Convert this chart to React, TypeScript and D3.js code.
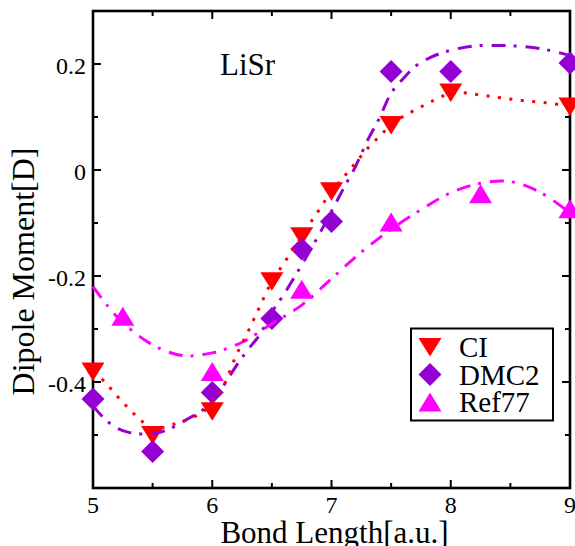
import React, { useRef, useEffect } from "react";
import * as d3 from "d3";

// computed points
const ciX = [5, 5.5, 6, 6.5, 6.75, 7, 7.5, 8, 9];
const ciY = [-0.38, -0.5, -0.455, -0.21, -0.125, -0.04, 0.085, 0.146, 0.12];
const dmcX = [5, 5.5, 6, 6.5, 6.75, 7, 7.5, 8, 9];
const dmcY = [-0.432, -0.531, -0.42, -0.28, -0.149, -0.097, 0.186, 0.186, 0.202];
const refX = [5.25, 6, 6.75, 7.5, 8.25, 9];
const refY = [-0.276, -0.38, -0.225, -0.098, -0.045, -0.073];

// fitted curves
const ciFitX = [5, 5.1, 5.2, 5.3, 5.4, 5.5, 5.6, 5.7, 5.8, 5.9, 6, 6.1, 6.2, 6.3, 6.4, 6.5, 6.6, 6.7, 6.8, 6.9, 7, 7.1, 7.2, 7.3, 7.4, 7.5, 7.6, 7.7, 7.8, 7.9, 8, 8.1, 8.2, 8.4, 8.6, 8.8, 9];
const ciFitY = [-0.38, -0.4, -0.426, -0.45, -0.472, -0.488, -0.485, -0.478, -0.47, -0.46, -0.44, -0.405, -0.35, -0.305, -0.257, -0.21, -0.176, -0.143, -0.107, -0.074, -0.04, -0.014, 0.013, 0.04, 0.063, 0.085, 0.101, 0.113, 0.125, 0.136, 0.145, 0.146, 0.143, 0.137, 0.131, 0.127, 0.12];
const dmcFitX = [5, 5.1, 5.2, 5.3, 5.4, 5.5, 5.6, 5.7, 5.8, 5.9, 6, 6.1, 6.2, 6.3, 6.4, 6.5, 6.6, 6.7, 6.8, 6.9, 7, 7.1, 7.2, 7.3, 7.4, 7.5, 7.6, 7.7, 7.8, 7.9, 8, 8.2, 8.4, 8.6, 8.8, 9];
const dmcFitY = [-0.445, -0.47, -0.487, -0.495, -0.498, -0.498, -0.492, -0.482, -0.469, -0.456, -0.437, -0.405, -0.37, -0.339, -0.31, -0.268, -0.235, -0.198, -0.16, -0.12, -0.078, -0.035, 0.006, 0.055, 0.097, 0.145, 0.172, 0.195, 0.209, 0.219, 0.226, 0.234, 0.235, 0.233, 0.227, 0.216];
const refFitX = [5, 5.125, 5.25, 5.5, 5.75, 6, 6.25, 6.5, 6.75, 7, 7.25, 7.5, 7.75, 8, 8.25, 8.5, 8.75, 9];
const refFitY = [-0.22, -0.257, -0.288, -0.33, -0.35, -0.345, -0.325, -0.29, -0.255, -0.205, -0.155, -0.112, -0.075, -0.043, -0.025, -0.022, -0.042, -0.081];

const xTicks = [5, 6, 7, 8, 9];
const xMinor = [5.5, 6.5, 7.5, 8.5];
const yTicks = [-0.4, -0.2, 0, 0.2];
const yMinor = [-0.5, -0.3, -0.1, 0.1];
const yTickLabels = ["-0.4", "-0.2", "0", "0.2"];
const legendNames = ["CI", "DMC2", "Ref77"];

const RED = "#ff0000";
const VIOLET = "#9400d3";
const MAGENTA = "#ff00ff";
const FONT = "Liberation Serif, serif";

const App = () => {
  const svgRef = useRef<SVGSVGElement>(null);

  useEffect(() => {
    const width = 575;
    const height = 546;
    const margin = { top: 11, right: 5, bottom: 58, left: 93 };

    const svg = d3.select(svgRef.current);
    svg.selectAll("*").remove();

    const x = d3.scaleLinear().domain([5, 9]).range([margin.left, width - margin.right]);
    const y = d3.scaleLinear().domain([-0.6, 0.3]).range([height - margin.bottom, margin.top]);

    const x0 = x(5), x1 = x(9), y0 = y(-0.6), y1 = y(0.3);

    // ticks, inward on all four sides
    const tg = svg.append("g").attr("stroke", "#000").attr("stroke-width", 2);
    const major = 8, minor = 5;
    xTicks.concat(xMinor).forEach((v) => {
      const len = xTicks.includes(v) ? major : minor;
      tg.append("line").attr("x1", x(v)).attr("x2", x(v)).attr("y1", y0).attr("y2", y0 - len);
      tg.append("line").attr("x1", x(v)).attr("x2", x(v)).attr("y1", y1).attr("y2", y1 + len);
    });
    yTicks.concat(yMinor).forEach((v) => {
      const len = yTicks.includes(v) ? major : minor;
      tg.append("line").attr("y1", y(v)).attr("y2", y(v)).attr("x1", x0).attr("x2", x0 + len);
      tg.append("line").attr("y1", y(v)).attr("y2", y(v)).attr("x1", x1).attr("x2", x1 - len);
    });

    // frame
    svg.append("rect")
      .attr("x", x0).attr("y", y1)
      .attr("width", x1 - x0).attr("height", y0 - y1)
      .attr("fill", "none").attr("stroke", "#000").attr("stroke-width", 2.6);

    // tick labels
    svg.append("g").selectAll("text").data(xTicks).join("text")
      .attr("x", (d) => x(d)).attr("y", y0 + 25)
      .attr("text-anchor", "middle")
      .attr("font-family", FONT).attr("font-size", 24)
      .text((d) => d);
    svg.append("g").selectAll("text").data(yTicks).join("text")
      .attr("x", x0 - 7).attr("y", (d) => y(d) + 10)
      .attr("text-anchor", "end")
      .attr("font-family", FONT).attr("font-size", 24)
      .text((d, i) => yTickLabels[i]);

    // axis titles
    svg.append("text")
      .attr("x", (x0 + x1) / 2 + 3).attr("y", 543)
      .attr("text-anchor", "middle")
      .attr("font-family", FONT).attr("font-size", 31)
      .text("Bond Length[a.u.]");
    svg.append("text")
      .attr("transform", `translate(34,${(y0 + y1) / 2 + 22}) rotate(-90)`)
      .attr("text-anchor", "middle")
      .attr("font-family", FONT).attr("font-size", 32)
      .text("Dipole Moment[D]");

    svg.append("text")
      .attr("x", 220).attr("y", 75)
      .attr("font-family", FONT).attr("font-size", 31)
      .text("LiSr");

    // markers
    const down = (cx: number, cy: number) =>
      `M${cx - 11.5},${cy - 9}L${cx + 11.5},${cy - 9}L${cx},${cy + 9.5}Z`;
    const up = (cx: number, cy: number) =>
      `M${cx - 11.5},${cy + 9.5}L${cx + 11.5},${cy + 9.5}L${cx},${cy - 9.5}Z`;
    const diamond = (cx: number, cy: number) =>
      `M${cx},${cy - 11.5}L${cx + 11.5},${cy}L${cx},${cy + 11.5}L${cx - 11.5},${cy}Z`;

    const sym = svg.append("g");
    sym.selectAll(".ci").data(ciX).join("path").attr("class", "ci")
      .attr("d", (d, i) => down(x(d), y(ciY[i]))).attr("fill", RED);
    sym.selectAll(".dmc").data(dmcX).join("path").attr("class", "dmc")
      .attr("d", (d, i) => diamond(x(d), y(dmcY[i]))).attr("fill", VIOLET);
    sym.selectAll(".ref").data(refX).join("path").attr("class", "ref")
      .attr("d", (d, i) => up(x(d), y(refY[i]))).attr("fill", MAGENTA);

    // fitted curves
    const line = d3.line<[number, number]>()
      .x((d) => x(d[0])).y((d) => y(d[1]))
      .curve(d3.curveCatmullRom.alpha(0.5));
    const zip = (a: number[], b: number[]) => a.map((v, i) => [v, b[i]] as [number, number]);

    svg.append("path").attr("d", line(zip(refFitX, refFitY)))
      .attr("fill", "none").attr("stroke", MAGENTA).attr("stroke-width", 3)
      .attr("stroke-dasharray", "14 8 3 9");
    svg.append("path").attr("d", line(zip(dmcFitX, dmcFitY)))
      .attr("fill", "none").attr("stroke", VIOLET).attr("stroke-width", 3)
      .attr("stroke-dasharray", "14 8 3 9");
    svg.append("path").attr("d", line(zip(ciFitX, ciFitY)))
      .attr("fill", "none").attr("stroke", RED).attr("stroke-width", 3)
      .attr("stroke-dasharray", "3 8.5");

    // legend
    const lg = svg.append("g");
    lg.append("rect")
      .attr("x", 411).attr("y", 328.5).attr("width", 142).attr("height", 92)
      .attr("fill", "#fff").attr("stroke", "#000").attr("stroke-width", 2);
    const shapes = [down, diamond, up];
    const colors = [RED, VIOLET, MAGENTA];
    legendNames.forEach((name, i) => {
      const cy = 347 + i * 27.5;
      lg.append("path").attr("d", shapes[i](430, cy)).attr("fill", colors[i]);
      lg.append("text")
        .attr("x", 459).attr("y", cy + 10)
        .attr("font-family", FONT).attr("font-size", 29)
        .text(name);
    });
  }, []);

  return (
    <svg
      ref={svgRef}
      width={575}
      height={546}
      style={{ position: "absolute", left: 0, top: 0, background: "#fff" }}
    ></svg>
  );
};

export default App;
